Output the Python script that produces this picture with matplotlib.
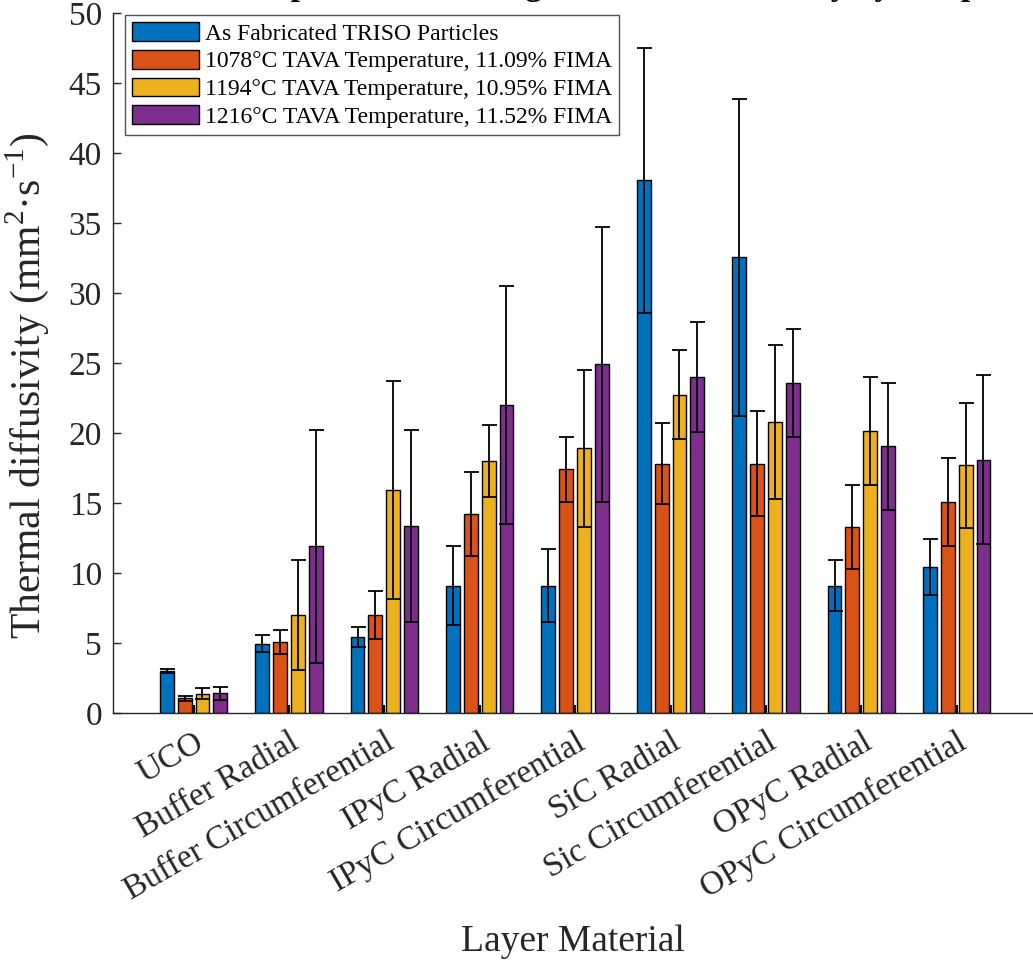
import matplotlib
matplotlib.use("Agg")
import matplotlib.pyplot as plt
import numpy as np

plt.rcParams["font.family"] = ["Liberation Serif", "DejaVu Serif"]
plt.rcParams["mathtext.fontset"] = "custom"
plt.rcParams["mathtext.rm"] = "Liberation Serif"

layers = ["UCO", "Buffer Radial", "Buffer Circumferential", "IPyC Radial",
          "IPyC Circumferential", "SiC Radial", "Sic Circumferential",
          "OPyC Radial", "OPyC Circumferential"]

series = ["As Fabricated TRISO Particles",
          "1078°C TAVA Temperature, 11.09% FIMA",
          "1194°C TAVA Temperature, 10.95% FIMA",
          "1216°C TAVA Temperature, 11.52% FIMA"]

# mean thermal diffusivity (mm^2/s) per layer
as_fab = [3.0, 4.95, 5.45, 9.1, 9.1, 38.05, 32.55, 9.1, 10.4]
t1078 = [1.05, 5.05, 7.0, 14.2, 17.4, 17.8, 17.8, 13.3, 15.1]
t1194 = [1.38, 7.0, 15.95, 18.0, 18.9, 22.75, 20.8, 20.15, 17.7]
t1216 = [1.4, 11.9, 13.35, 22.0, 24.9, 24.0, 23.6, 19.05, 18.1]

# standard deviations
as_fab_err = [0.15, 0.62, 0.7, 2.8, 2.6, 9.45, 11.3, 1.8, 2.0]
t1078_err = [0.2, 0.87, 1.7, 3.0, 2.35, 2.9, 3.75, 3.0, 3.15]
t1194_err = [0.38, 3.9, 7.8, 2.6, 5.6, 3.2, 5.5, 3.85, 4.45]
t1216_err = [0.45, 8.3, 6.85, 8.5, 9.85, 3.9, 3.85, 4.55, 6.05]

means = [as_fab, t1078, t1194, t1216]
errs = [as_fab_err, t1078_err, t1194_err, t1216_err]
colors = ["#0072BD", "#D95319", "#EDB120", "#7E2F8E"]

fig = plt.figure(figsize=(10.33, 9.61), dpi=100)
W, H = 1033, 961
x_left = 0.156
x_right = 10.16
ax_w = (x_right - x_left) * 95.4
ax = fig.add_axes([113 / W, 248 / H, ax_w / W, 700 / H])

x = np.arange(1, len(layers) + 1)
pitch = 0.187
width = 0.145
for k in range(4):
    xs = x + (k - 1.5) * pitch
    ax.bar(xs, means[k], width, color=colors[k], edgecolor="black",
           linewidth=1.0, label=series[k], zorder=2)
    ax.errorbar(xs, means[k], yerr=errs[k], fmt="none", ecolor="black",
                elinewidth=1.3, capsize=5.4, capthick=1.3, zorder=3)

ax.set_xlim(x_left, x_right)
ax.set_ylim(0, 50)
ax.set_yticks(np.arange(0, 51, 5))
ax.set_xticks(x)
ax.set_xticklabels(layers, rotation=30, ha="right", rotation_mode="anchor",
                   fontsize=24)
ax.tick_params(axis="y", direction="in", length=6, width=1, labelsize=24,
               colors="#262626", labelcolor="#262626", pad=8)
ax.tick_params(axis="x", direction="in", length=6, width=1.5,
               colors="black", labelcolor="#262626", pad=10)

for side in ["top", "right"]:
    ax.spines[side].set_visible(False)
for side in ["left", "bottom"]:
    ax.spines[side].set_color("#262626")
    ax.spines[side].set_linewidth(1.0)

ax.set_ylabel("Thermal diffusivity (mm$^2$·s$^{-1}$)", fontsize=30,
              color="#262626")
ax.yaxis.set_label_coords(-62 / ax_w, 0.467)
fig.text(573 / W, 1 - 942 / H, "Layer Material", fontsize=27,
         ha="center", va="center", color="#262626")

leg = ax.legend(loc="upper left", bbox_to_anchor=(125 / W, 1 - 15 / H),
                bbox_transform=fig.transFigure, fontsize=17, frameon=True,
                fancybox=False, edgecolor="#262626", borderpad=0.3,
                labelspacing=0.22, handlelength=2.85, handleheight=0.85,
                handletextpad=0.25, borderaxespad=0)
leg.get_frame().set_linewidth(1.0)

# title sits above the top edge; only its descenders reach the canvas
fig.text(222 / W, 1 + 5 / H, "Comparison of Average Thermal Diffusivity by Temperature",
         fontsize=24, fontweight="bold", ha="left", va="baseline", color="black")

fig.savefig("out.png", dpi=100)
